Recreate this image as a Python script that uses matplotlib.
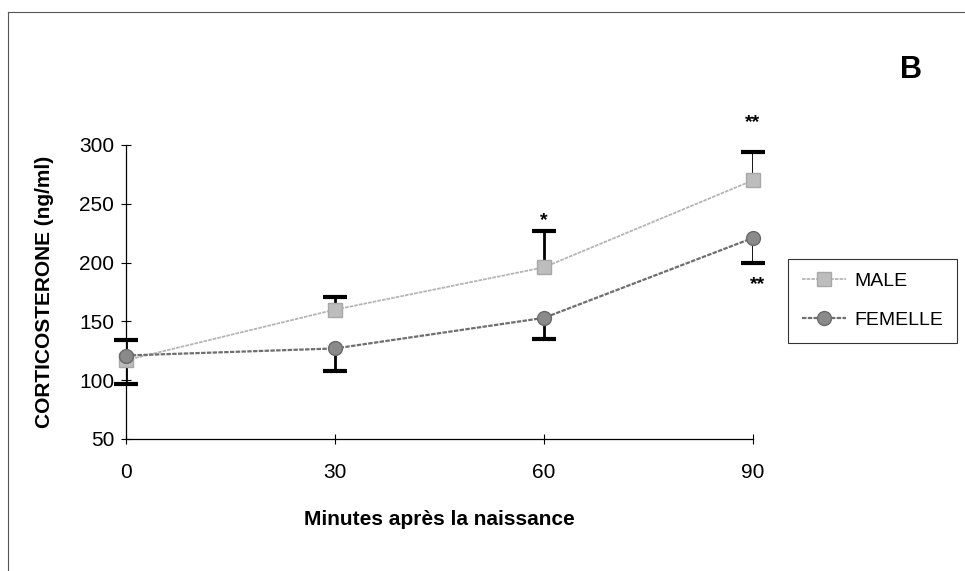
import matplotlib.pyplot as plt
import numpy as np
from matplotlib.lines import Line2D

plt.rcParams['font.family'] = ['Liberation Sans', 'DejaVu Sans']

# data
minutes = [0, 30, 60, 90]
male = [117, 160, 196, 270]
male_err_up = [17, 11, 31, 24]
femelle = [121, 127, 153, 221]
femelle_err_down = [24, 19, 18, 21]
stars_txt = ['*', '**', '**']
stars_x = [60, 90, 90.6]
stars_y = [236, 319, 181]

fig = plt.figure(figsize=(9.65, 5.71), dpi=100)
ax = fig.add_axes([126 / 965, 1 - 439 / 571, 627 / 965, 294 / 571])

# one-sided error bars: male goes up, femelle goes down
male_top = np.array(male) + np.array(male_err_up)
fem_bot = np.array(femelle) - np.array(femelle_err_down)
ax.vlines(minutes, male, male_top, color='black', lw=2, zorder=2)
ax.vlines(minutes, femelle, fem_bot, color='black', lw=2, zorder=2)
ax.plot(minutes, male_top, ls='none', marker='_', ms=17, mew=3, color='black', zorder=2, clip_on=False)
ax.plot(minutes, fem_bot, ls='none', marker='_', ms=17, mew=3, color='black', zorder=2, clip_on=False)

ax.plot(minutes, male, color='#b5b5b5', lw=1.3, ls=(0, (2, 0.6)), marker='s', ms=9.5,
        mfc='#bdbdbd', mec='#a8a8a8', zorder=3, label='MALE', clip_on=False)
ax.plot(minutes, femelle, color='#6e6e6e', lw=1.6, ls=(0, (2, 0.6)), marker='o', ms=10,
        mfc='#8a8a8a', mec='#6a6a6a', zorder=3, label='FEMELLE', clip_on=False)

for t, x, y in zip(stars_txt, stars_x, stars_y):
    ax.text(x, y, t, ha='center', va='center', fontsize=14, fontweight='bold', clip_on=False)

ax.set_xlim(0, 90)
ax.set_ylim(50, 300)
ax.set_xticks(minutes)
ax.set_yticks([50, 100, 150, 200, 250, 300])
ax.tick_params(direction='inout', length=7, width=0.8, labelsize=15, pad=14)
ax.tick_params(axis='y', pad=5)
for s in ['top', 'right']:
    ax.spines[s].set_visible(False)
for s in ['left', 'bottom']:
    ax.spines[s].set_linewidth(0.9)

ax.set_xlabel('Minutes après la naissance', fontsize=15, fontweight='bold', labelpad=20)
ax.set_ylabel('CORTICOSTERONE (ng/ml)', fontsize=15, fontweight='bold', labelpad=18)

leg = ax.legend(loc='upper left', bbox_to_anchor=(788 / 965, 1 - 259 / 571),
                bbox_transform=fig.transFigure, frameon=True, fancybox=False,
                prop={'size': 14}, edgecolor='black', borderpad=0.7, labelspacing=1.1,
                handlelength=2.3, handletextpad=0.4, borderaxespad=0)
leg.get_frame().set_linewidth(0.8)

fig.text(911 / 965, 1 - 70 / 571, 'B', ha='center', va='center', fontsize=22, fontweight='bold')

# partial frame around the figure (left and top only)
fig.add_artist(Line2D([8 / 965, 8 / 965], [0, 1 - 12 / 571], color='#555555', lw=0.8))
fig.add_artist(Line2D([8 / 965, 1], [1 - 12 / 571, 1 - 12 / 571], color='#555555', lw=0.8))

fig.savefig('out.png', dpi=100)
